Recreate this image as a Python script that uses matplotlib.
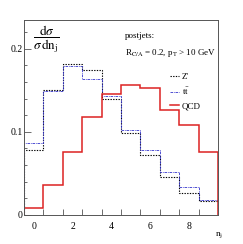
import matplotlib
matplotlib.use("Agg")
import matplotlib.pyplot as plt
import numpy as np

plt.rcParams['font.family'] = ['Liberation Serif', 'DejaVu Serif']
plt.rcParams['mathtext.fontset'] = 'stix'

edges = np.arange(-0.5, 10.0, 1.0)
zprime = [0.078, 0.150, 0.182, 0.174, 0.139, 0.098, 0.072, 0.045, 0.026, 0.0165]
ttbar = [0.086, 0.149, 0.179, 0.163, 0.143, 0.102, 0.078, 0.051, 0.033, 0.018]
qcd = [0.008, 0.036, 0.075, 0.118, 0.146, 0.156, 0.153, 0.126, 0.108, 0.076]
xlabels = [0, 2, 4, 6, 8]


def plot_njets():
    fig = plt.figure(figsize=(2.43, 2.44), dpi=100)
    ax = fig.add_axes([0.099, 0.120, 0.798, 0.798])

    ax.stairs(zprime, edges, color='black', linestyle=(0, (1.2, 1.2)),
              linewidth=0.8, label="Z'")
    ax.stairs(ttbar, edges, color='#3333cc', linestyle=(0, (3, 1, 1, 1)),
              linewidth=0.6, label=r'$\mathrm{t\bar{t}}$')
    ax.stairs(qcd, edges, color='#dd2222', linewidth=1.1, label='QCD')

    ax.set(xlim=[-0.5, 9.5], ylim=[0, 0.2346])

    # ticks at bin edges, labels at even bin centres
    ax.set_xticks(edges[1:-1])
    ax.set_xticklabels([])
    ax.set_xticks(xlabels, minor=True)
    ax.set_xticklabels([str(v) for v in xlabels], minor=True)
    ax.tick_params(axis='x', which='major', direction='in', length=4,
                   width=0.6, color='#555555')
    ax.tick_params(axis='x', which='minor', length=0, labelsize=7, pad=5)

    ax.set_yticks([0, 0.1, 0.2])
    ax.set_yticklabels(['0', '0.1', '0.2'])
    ax.set_yticks(np.arange(0, 0.23, 0.02), minor=True)
    ax.tick_params(axis='y', which='major', direction='in', length=5,
                   width=0.6, labelsize=7, pad=1, color='#555555')
    ax.tick_params(axis='y', which='minor', direction='in', length=2.5,
                   width=0.6, color='#555555')

    for sp in ax.spines.values():
        sp.set_linewidth(0.7)
        sp.set_color('#555555')

    ax.text(0.045, 0.90, r'$\dfrac{\mathrm{d}\sigma}{\sigma\,\mathrm{dn}_{\mathrm{j}}}$',
            transform=ax.transAxes, fontsize=9.5, va='center', ha='left')
    ax.text(0.52, 0.94, 'postjets:', transform=ax.transAxes,
            fontsize=6.5, va='top')
    ax.text(0.52, 0.86, r'R$_{\mathrm{C/A}}$ = 0.2, p$_{\mathrm{T}}$ > 10 GeV',
            transform=ax.transAxes, fontsize=6.5, va='top')

    ax.legend(loc='upper left', bbox_to_anchor=(0.72, 0.76), frameon=False,
              fontsize=6.5, handlelength=1.0, handletextpad=0.3,
              labelspacing=0.5, borderpad=0.2)

    fig.text(0.885, 0.035, r'n$_{\mathrm{j}}$', fontsize=6.5, ha='left')
    return fig


fig = plot_njets()
fig.savefig('out.png', dpi=100)
